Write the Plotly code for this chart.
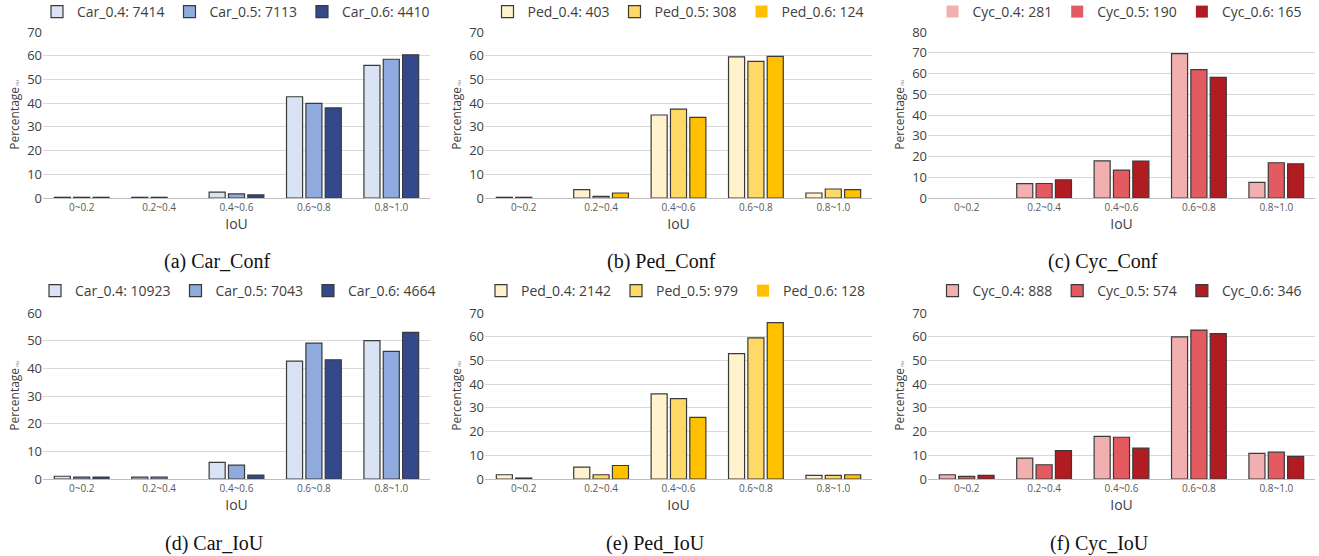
import plotly.graph_objects as go

categories = ["0~0.2", "0.2~0.4", "0.4~0.6", "0.6~0.8", "0.8~1.0"]

# Panel (a) Car_Conf
car_conf_names = ["Car_0.4: 7414", "Car_0.5: 7113", "Car_0.6: 4410"]
car_conf_04 = [0.3, 0.3, 2.5, 42.7, 55.9]
car_conf_05 = [0.3, 0.3, 1.7, 39.9, 58.5]
car_conf_06 = [0.3, 0.0, 1.3, 38.0, 60.4]

# Panel (b) Ped_Conf
ped_conf_names = ["Ped_0.4: 403", "Ped_0.5: 308", "Ped_0.6: 124"]
ped_conf_04 = [0.3, 3.5, 35.0, 59.5, 2.1]
ped_conf_05 = [0.3, 0.7, 37.5, 57.6, 3.8]
ped_conf_06 = [0.0, 2.1, 34.0, 59.7, 3.5]

# Panel (c) Cyc_Conf
cyc_conf_names = ["Cyc_0.4: 281", "Cyc_0.5: 190", "Cyc_0.6: 165"]
cyc_conf_04 = [0.0, 6.9, 17.9, 69.6, 7.5]
cyc_conf_05 = [0.0, 7.0, 13.4, 61.9, 17.0]
cyc_conf_06 = [0.0, 8.8, 17.8, 58.1, 16.5]

# Panel (d) Car_IoU
car_iou_names = ["Car_0.4: 10923", "Car_0.5: 7043", "Car_0.6: 4664"]
car_iou_04 = [1.0, 0.7, 6.0, 42.6, 50.0]
car_iou_05 = [0.7, 0.7, 5.0, 49.1, 46.1]
car_iou_06 = [0.7, 0.0, 1.4, 43.1, 53.0]

# Panel (e) Ped_IoU
ped_iou_names = ["Ped_0.4: 2142", "Ped_0.5: 979", "Ped_0.6: 128"]
ped_iou_04 = [1.8, 5.0, 35.9, 52.9, 1.5]
ped_iou_05 = [0.4, 1.8, 33.9, 59.5, 1.5]
ped_iou_06 = [0.0, 5.7, 26.0, 65.9, 1.8]

# Panel (f) Cyc_IoU
cyc_iou_names = ["Cyc_0.4: 888", "Cyc_0.5: 574", "Cyc_0.6: 346"]
cyc_iou_04 = [1.8, 8.8, 18.0, 59.9, 10.8]
cyc_iou_05 = [1.1, 6.0, 17.6, 62.8, 11.3]
cyc_iou_06 = [1.5, 12.0, 13.0, 61.3, 9.5]

captions = ["(a) Car_Conf", "(b) Ped_Conf", "(c) Cyc_Conf",
            "(d) Car_IoU", "(e) Ped_IoU", "(f) Cyc_IoU"]
y_max = [70, 70, 80, 60, 70, 70]

car_colors = ["#DAE3F3", "#8FAADC", "#33498C"]
ped_colors = ["#FFF2CC", "#FFD966", "#FFC000"]
cyc_colors = ["#F2AFB0", "#E35A60", "#B01C21"]

panels = [
    (car_conf_names, [car_conf_04, car_conf_05, car_conf_06], car_colors),
    (ped_conf_names, [ped_conf_04, ped_conf_05, ped_conf_06], ped_colors),
    (cyc_conf_names, [cyc_conf_04, cyc_conf_05, cyc_conf_06], cyc_colors),
    (car_iou_names, [car_iou_04, car_iou_05, car_iou_06], car_colors),
    (ped_iou_names, [ped_iou_04, ped_iou_05, ped_iou_06], ped_colors),
    (cyc_iou_names, [cyc_iou_04, cyc_iou_05, cyc_iou_06], cyc_colors),
]

W, H = 1319, 556
x_px = [(43, 430), (485, 872), (928, 1315)]
y_px = [(32, 198), (313, 479)]
legend_y_px = [12, 291]
legend_x_px = [[236, 678, 1120], [238, 676, 1120]]
caption_y_px = [261, 543]
caption_x_px = [[217, 661, 1103], [215, 655, 1099]]

fig = go.Figure()
layout = dict(
    width=W, height=H, margin=dict(l=0, r=0, t=0, b=0, autoexpand=False),
    paper_bgcolor="white", plot_bgcolor="white",
    barmode="group", bargap=0.25, bargroupgap=0.17,
    font=dict(family="Open Sans, Noto Sans, sans-serif", color="#404040"),
    showlegend=True,
)
annotations = []

for i, (names, series, colors) in enumerate(panels):
    r, c = divmod(i, 3)
    idx = "" if i == 0 else str(i + 1)
    xa, ya = "x" + idx, "y" + idx
    leg = "legend" + idx
    for name, vals, col in zip(names, series, colors):
        fig.add_trace(go.Bar(
            x=categories, y=vals, name=name, xaxis=xa, yaxis=ya,
            marker=dict(color=col, line=dict(
                color="#3a3a3a", width=[1.2 if v > 0 else 0 for v in vals])),
            legend=leg,
        ))
    x0, x1 = x_px[c]
    ytop, ybot = y_px[r]
    layout["xaxis" + idx] = dict(
        domain=[x0 / W, x1 / W], anchor=ya, automargin=False,
        showline=True, linecolor="#bfbfbf", linewidth=1,
        ticks="", tickfont=dict(size=10, color="#595959"),
        title=dict(text="IoU", font=dict(size=14, color="#404040"), standoff=4),
        fixedrange=True,
    )
    layout["yaxis" + idx] = dict(
        domain=[1 - ybot / H, 1 - ytop / H], anchor=xa, automargin=False,
        range=[0, y_max[i]], dtick=10,
        showgrid=True, gridcolor="#d9d9d9", gridwidth=1,
        zeroline=False, showline=False, ticklen=0,
        tickfont=dict(size=13, color="#404040"),
        title=dict(text="Percentage<span style='font-size:4px'> (%)</span>",
                   font=dict(size=12, color="#404040"), standoff=4),
    )
    layout[leg] = dict(
        orientation="h", x=legend_x_px[r][c] / W, xanchor="center",
        y=1 - legend_y_px[r] / H, yanchor="middle",
        font=dict(size=14, color="#404040"),
        bgcolor="rgba(0,0,0,0)", itemwidth=30,
        tracegroupgap=0,
    )
    annotations.append(dict(
        text=captions[i], x=caption_x_px[r][c] / W, y=1 - caption_y_px[r] / H,
        xref="paper", yref="paper", showarrow=False,
        xanchor="center", yanchor="middle",
        font=dict(family="Liberation Serif, Times New Roman, serif", size=20, color="#111111"),
    ))

layout["annotations"] = annotations
fig.update_layout(**layout)
fig.write_html("out.html",
               config={"displayModeBar": False},
               post_script="document.body.style.margin='0';document.body.style.overflow='hidden';")
